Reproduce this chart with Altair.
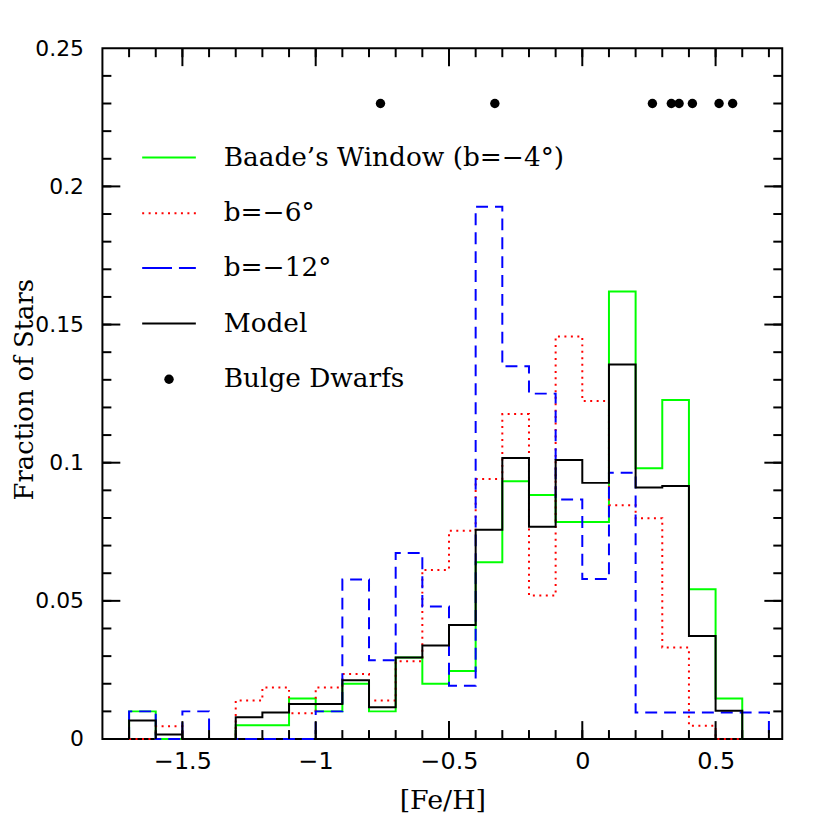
import altair as alt
import pandas as pd

# ---- data ----
bin_edges = [-1.7, -1.6, -1.5, -1.4, -1.3, -1.2, -1.1, -1.0, -0.9, -0.8, -0.7, -0.6,
             -0.5, -0.4, -0.3, -0.2, -0.1, 0.0, 0.1, 0.2, 0.3, 0.4, 0.5, 0.6, 0.7]

baade = [0.0100, 0.0, 0.0, 0.0, 0.0050, 0.0050, 0.0147, 0.0100, 0.0200, 0.0100, 0.0295, 0.0200,
         0.0246, 0.0640, 0.0933, 0.0883, 0.0785, 0.0785, 0.1620, 0.0980, 0.1227, 0.0542, 0.0147, 0.0]
b6 = [0.0, 0.0046, 0.0, 0.0, 0.0139, 0.0186, 0.0093, 0.0186, 0.0235, 0.0139, 0.0281, 0.0612,
      0.0754, 0.0941, 0.1176, 0.0519, 0.1457, 0.1223, 0.0846, 0.0799, 0.0331, 0.0048, 0.0, 0.0]
b12 = [0.0100, 0.0, 0.0100, 0.0, 0.0, 0.0, 0.0, 0.0100, 0.0577, 0.0285, 0.0673, 0.0480,
       0.0193, 0.1926, 0.1349, 0.1250, 0.0867, 0.0579, 0.0964, 0.0096, 0.0096, 0.0096, 0.0096, 0.0096]
model = [0.0067, 0.0016, 0.0, 0.0, 0.0079, 0.0096, 0.0127, 0.0127, 0.0213, 0.0115, 0.0295, 0.0338,
         0.0413, 0.0757, 0.1017, 0.0768, 0.1010, 0.0927, 0.1355, 0.0910, 0.0916, 0.0373, 0.0102, 0.0]

dwarf_feh = [-0.757, -0.328, 0.263, 0.334, 0.363, 0.413, 0.513, 0.564]
dwarf_y = [0.23, 0.23, 0.23, 0.23, 0.23, 0.23, 0.23, 0.23]

legend_labels = ["Baade\u2019s Window (b=\u22124\u00b0)", "b=\u22126\u00b0", "b=\u221212\u00b0", "Model", "Bulge Dwarfs"]

x_major = [-1.5, -1.0, -0.5, 0.0, 0.5]
x_minor = bin_edges
y_labels = [0, 0.05, 0.1, 0.15, 0.2, 0.25]
y_major = [0.05, 0.1, 0.15, 0.2]
y_minor = [round(0.01 * k, 2) for k in range(1, 25)]

# ---- layout ----
W, H = 684, 695
X_SCALE = alt.Scale(domain=[-1.8, 0.75], nice=False, zero=False)
Y_SCALE = alt.Scale(domain=[0, 0.25], nice=False, zero=False)


def step_df(vals):
    xs = [bin_edges[0]] + bin_edges[:-1] + [bin_edges[-1]]
    ys = [0.0] + list(vals) + [0.0]
    return pd.DataFrame({"x": xs, "y": ys, "i": list(range(len(xs)))})


X_AXIS = alt.Axis(values=x_major, format="~g", ticks=False, domain=False, grid=False,
                  labelFont="DejaVu Sans", labelFontSize=24, labelPadding=23, labelBaseline="middle",
                  labelFlush=False, labelOverlap=False, labelColor="black",
                  title="[Fe/H]", titleFont="DejaVu Serif", titleFontSize=27, titleFontWeight="normal",
                  titleColor="black", titleX=W / 2, titleY=62, titleAlign="center", titleBaseline="middle")
Y_AXIS = alt.Axis(values=y_labels, format="~g", ticks=False, domain=False, grid=False,
                  labelFont="DejaVu Sans", labelFontSize=22, labelPadding=19, labelBaseline="middle",
                  labelFlush=False, labelOverlap=False, labelColor="black",
                  title="Fraction of Stars", titleFont="DejaVu Serif", titleFontSize=26,
                  titleFontWeight="normal", titleColor="black", titleAngle=-90,
                  titleX=-78, titleY=343, titleAlign="center", titleBaseline="middle")


def X(field):
    return alt.X(field, scale=X_SCALE, axis=X_AXIS)


def Y(field):
    return alt.Y(field, scale=Y_SCALE, axis=Y_AXIS)


series = [
    (baade, "#00ff00", None),
    (b6, "#ff0000", [2, 4.5]),
    (b12, "#0000ff", [12, 7]),
    (model, "#000000", None),
]

layers = []
for vals, col, dash in series:
    kw = dict(color=col, strokeWidth=2, interpolate="step-after", strokeCap="butt")
    if dash:
        kw["strokeDash"] = dash
    layers.append(
        alt.Chart(step_df(vals)).mark_line(**kw).encode(
            x=X("x:Q"), y=Y("y:Q"), order=alt.Order("i:Q"),
        )
    )

# bulge dwarfs
layers.append(
    alt.Chart(pd.DataFrame({"x": dwarf_feh, "y": dwarf_y})).mark_circle(
        color="black", opacity=1, size=90
    ).encode(x=X("x:Q"), y=Y("y:Q"))
)


# ticks on all four sides (inward)
def xticks(vals, length):
    df = pd.DataFrame({"x": vals})
    bot = alt.Chart(df).mark_rule(color="black", strokeWidth=2).encode(
        x=X("x:Q"), y=alt.value(H), y2=alt.value(H - length))
    top = alt.Chart(df).mark_rule(color="black", strokeWidth=2).encode(
        x=X("x:Q"), y=alt.value(0), y2=alt.value(length))
    return [bot, top]


def yticks(vals, length):
    df = pd.DataFrame({"y": vals})
    left = alt.Chart(df).mark_rule(color="black", strokeWidth=2).encode(
        y=Y("y:Q"), x=alt.value(0), x2=alt.value(length))
    right = alt.Chart(df).mark_rule(color="black", strokeWidth=2).encode(
        y=Y("y:Q"), x=alt.value(W), x2=alt.value(W - length))
    return [left, right]


layers += xticks(x_minor, 9) + xticks(x_major, 18) + yticks(y_minor, 9) + yticks(y_major, 18)

# legend (inside plot, top-left)
row_y = [110, 166, 221, 277, 333]
one = pd.DataFrame({"k": [0]})
leg_styles = [("#00ff00", None), ("#ff0000", [2, 4.5]), ("#0000ff", [30, 7]), ("#000000", None)]
for (col, dash), yy in zip(leg_styles, row_y[:4]):
    kw = dict(color=col, strokeWidth=2, strokeCap="butt")
    if dash:
        kw["strokeDash"] = dash
    layers.append(alt.Chart(one).mark_rule(**kw).encode(
        x=alt.value(40), x2=alt.value(94), y=alt.value(yy)))
layers.append(alt.Chart(one).mark_circle(color="black", opacity=1, size=90).encode(
    x=alt.value(67), y=alt.value(row_y[4])))
for lab, yy in zip(legend_labels, row_y):
    layers.append(
        alt.Chart(pd.DataFrame({"label": [lab]})).mark_text(
            font="DejaVu Serif", fontSize=26.5, align="left", baseline="middle", color="black"
        ).encode(text="label:N", x=alt.value(122), y=alt.value(yy))
    )

chart = alt.layer(*layers).properties(
    width=W, height=H,
    autosize=alt.AutoSizeParams(type="none"),
    padding={"left": 95, "top": 38, "right": 40, "bottom": 80},
    background="white",
).configure_view(stroke="black", strokeWidth=2)

chart.save("out.html", embed_options={"renderer": "svg", "actions": False})
